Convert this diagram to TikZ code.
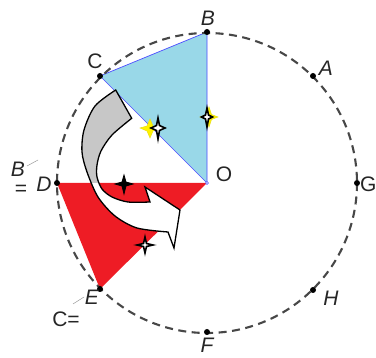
\documentclass[tikz,border=0pt]{standalone}
\usepackage{fontspec}
\setmainfont{Liberation Sans}
\begin{document}
\begin{tikzpicture}[x=1pt,y=-1pt,
  lbl/.style={font=\fontsize{21}{21}\selectfont\itshape, inner sep=0pt, text=black!85},
  lblu/.style={font=\fontsize{21}{21}\selectfont, inner sep=0pt, text=black!85},
  dot/.style={fill=black, draw=none},
  circ/.style={dash pattern=on 8pt off 5.5pt, line width=2.1pt, draw=black!72},
  arrowshape/.style={draw=black, line width=1.3pt, line join=miter},
  starY/.style={fill=yellow, draw=yellow!90!black, line width=0.5pt},
  starK/.style={fill=white, draw=black, line width=1.6pt},
  leader/.style={draw=black!40, line width=0.5pt}]
\definecolor{lblue}{HTML}{99D8E8}
\definecolor{rred}{HTML}{EE1C25}
\useasboundingbox (0,0) rectangle (376,358);
% points
\coordinate (O) at (207,183);
\coordinate (A) at (313,76);
\coordinate (B) at (207,32);
\coordinate (C) at (100,76);
\coordinate (D) at (57,183);
\coordinate (E) at (100,289);
\coordinate (F) at (207,332);
\coordinate (G) at (357,183);
\coordinate (H) at (313,290);
% triangles
\fill[rred] (D) -- (O) -- (E) -- cycle;
\filldraw[fill=lblue, draw=blue!70, line width=0.7pt] (C) -- (B) -- (O) -- cycle;
% dashed circle
\draw[circ] (O) circle[radius=150];
% arrow
\def\arrowpath{(115.7,90) -- plot[smooth] coordinates {(115.7,90) (95,106) (84,130) (82,152) (87,172) (98,197) (115,216) (137,228) (168,232)} -- (174,248) -- (180,210) -- (145,187) -- (150,202) -- plot[smooth] coordinates {(150,202) (128,202) (112,197) (102,189) (97,177) (97,165) (101,151) (112,135) (131.7,118.3)} -- cycle}
\fill[white] \arrowpath;
\begin{scope}
\clip (0,0) rectangle (376,183);
\fill[black!22] \arrowpath;
\end{scope}
\draw[arrowshape] \arrowpath;
% stars
\path[starY] (150,119) -- (153,126) -- (160,128) -- (153,131) -- (150,138) -- (147,131) -- (140,128) -- (147,126) -- cycle;
\path[starK] (158,118) -- (159.5,125.5) -- (165,128) -- (159.5,130.5) -- (158,139) -- (156.5,130.5) -- (151,128) -- (156.5,125.5) -- cycle;
\path[starY] (209,107) -- (211.5,114.5) -- (218,117) -- (211.5,119.5) -- (209,127) -- (206.5,119.5) -- (200,117) -- (206.5,114.5) -- cycle;
\path[starK] (207,108) -- (208.5,115) -- (212.5,117) -- (208.5,119) -- (207,127) -- (205.5,119) -- (201.5,117) -- (205.5,115) -- cycle;
\filldraw[fill=black, draw=black, line width=0.8pt] (124,175) -- (126,182) -- (133,184) -- (126,186) -- (124,194) -- (122,186) -- (115,184) -- (122,182) -- cycle;
\path[starK] (145,237) -- (146.5,243.5) -- (153,245) -- (146.5,246.5) -- (145,253) -- (143.5,246.5) -- (137,245) -- (143.5,243.5) -- cycle;
% dots
\foreach \p in {A,B,C,D,E,F,G,H} \fill[dot] (\p) circle[radius=3];
\filldraw[fill=white, draw=blue!70, line width=0.6pt] (O) circle[radius=1.5];
% labels
\node[lbl] (lB) at (208,18) {B};
\node[lbl] (lA) at (326,68) {A};
\node[lblu] (lC) at (95,61) {C};
\node[lblu] (lO) at (224,174) {O};
\node[lblu, anchor=west] (lG) at (360,184) {G};
\node[lbl] (lH) at (331,298) {H};
\node[lbl] (lF) at (207,345) {F};
\node[lbl] (lE) at (92,297) {E};
\node[lbl] (lD) at (44,184) {D};
\node[lbl] (lB2) at (18,169) {B};
\node[lblu] (lEq) at (21,190) {=};
\node[lblu] (lCeq) at (66,319) {C=};
\draw[leader] (27,166) -- (38,160);
\draw[leader] (73,304) -- (84,297);
\end{tikzpicture}
\end{document}
